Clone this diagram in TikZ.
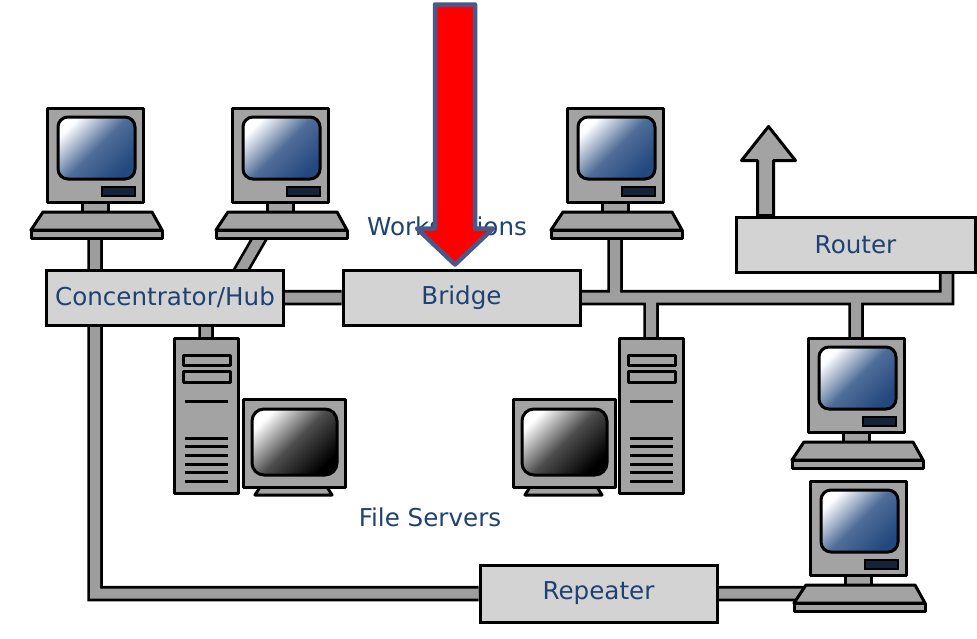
\documentclass[tikz,border=0pt]{standalone}
\usepackage{fontspec}
\setmainfont{DejaVu Sans}
\usetikzlibrary{positioning, backgrounds}

\definecolor{labelblue}{HTML}{1F4272}
\definecolor{scrblue}{HTML}{24497F}
\definecolor{slotblue}{HTML}{14233A}
\definecolor{unitgray}{HTML}{A3A3A3}
\definecolor{boxgray}{HTML}{D3D3D3}
\definecolor{cablegray}{HTML}{9E9E9E}
\definecolor{arrowedge}{HTML}{4A5888}

\tikzset{
    % desktop machine: monitor standing on a keyboard
    workstation/.pic={
        \draw[unit] (0,0) rectangle (96,94);
        \draw[screen] (11,9) rectangle (88,71);
        \draw[slot] (55,79) rectangle (88,88);
        \draw[unit] (35,94) rectangle (61,104);
        \draw[unit] (-4,104) -- (105,104) -- (115,122) -- (-16,122) -- cycle;
        \draw[unit] (-16,122) rectangle (115,130);
        \coordinate (-top) at (48,0);
        \coordinate (-port) at (48,126);
    },
    % server tower with drive bays and vents
    tower/.pic={
        \draw[unit] (0,0) rectangle (64,155);
        \draw[unit] (9,17) rectangle (56,27);
        \draw[unit] (9,33) rectangle (56,44);
        \draw[vent] (11,63) -- (54,63);
        \foreach \v in {0,...,5}
            \draw[vent] (11,100+8.7*\v) -- (54,100+8.7*\v);
        \coordinate (-top) at (32,0);
    },
    % console monitor next to a tower
    crt/.pic={
        \draw[unit] (17,88) -- (84,88) -- (89,96) -- (12,96) -- cycle;
        \draw[unit] (0,0) rectangle (102,88);
        \draw[crtscreen] (9,10) rectangle (94,76);
    }
}

\begin{document}
\begin{tikzpicture}[x=0.2mm, y=-0.2mm,
    unit/.style={draw, line width=0.6mm, fill=unitgray, line join=round},
    screen/.style={draw, line width=0.6mm, rounded corners=2mm, left color=white, right color=scrblue, middle color=scrblue!80!white, shading angle=45},
    crtscreen/.style={draw, line width=0.6mm, rounded corners=2.4mm, left color=white, right color=black, middle color=black!70!white, shading angle=45},
    slot/.style={draw, line width=0.3mm, fill=slotblue},
    vent/.style={line width=0.6mm},
    devbox/.style={rectangle, draw, line width=0.6mm, fill=boxgray, inner sep=0pt, minimum width=47.4mm, minimum height=11mm, text=labelblue, font=\fontsize{14}{16}\selectfont},
    netlabel/.style={text=labelblue, font=\fontsize{14}{16}\selectfont},
    cable/.style={draw=black, line width=0.55mm, double=cablegray, double distance=2mm},
    bigarrow/.style={draw=arrowedge, line width=0.9mm, fill=red, line join=round}
]
    \useasboundingbox (0,0) rectangle (977,638);

    % boxes
    \node[devbox] (hub) at (165,297.5) {Concentrator/Hub};
    \node[devbox] (bridge) at (461.5,297.5) {Bridge};
    \node[devbox, minimum width=47.8mm] (router) at (855.5,244.5) {Router};
    \node[devbox, minimum height=11.4mm] (repeater) at (598.5,593.5) {Repeater};

    % machines
    \pic (ws1) at (47,108) {workstation};
    \pic (ws2) at (232,108) {workstation};
    \pic (ws3) at (567,108) {workstation};
    \pic (ws4) at (808,338) {workstation};
    \pic (ws5) at (810,481) {workstation};
    \pic (srv1) at (174,338) {tower};
    \pic (srv2) at (619,338) {tower};
    \pic (con1) at (243,399) {crt};
    \pic (con2) at (513,399) {crt};

    \node[netlabel] (wslabel) at (447,226) {Workstations};
    \node[netlabel] (fslabel) at (430,517) {File Servers};

    % uplink out of the router
    \draw[unit] ([xshift=4.6mm]router.north west) -- ++(0,-55) -- ++(-16,0) -- ++(27,-34)
        -- ++(27,34) -- ++(-22,0) -- ++(0,55) -- cycle;

    % pointer onto the bridge
    \draw[bigarrow] ([xshift=-1.3mm,yshift=0.8mm]bridge.north) -- ++(-38,-36) -- ++(18,0)
        -- ++(0,-224) -- ++(40,0) -- ++(0,224) -- ++(18,0) -- cycle;

    % cabling, kept under everything else
    \begin{scope}[on background layer]
        \draw[cable]
            (ws1-port) -- (ws1-port |- hub)
            ([xshift=-3.6mm]ws2-port) -- ([xshift=-10.2mm,yshift=-2.8mm]hub.north east)
            (hub) -- (bridge)
            (bridge) -| ([xshift=-6mm]router.east)
            (ws3-port) -- (ws3-port |- bridge)
            (srv2-top) -- (srv2-top |- bridge)
            (ws4-top) -- (ws4-top |- bridge)
            (srv1-top) -- (srv1-top |- hub)
            (ws1-port |- hub) |- (repeater)
            (repeater) -- (ws5-port |- repeater);
    \end{scope}
\end{tikzpicture}
\end{document}
